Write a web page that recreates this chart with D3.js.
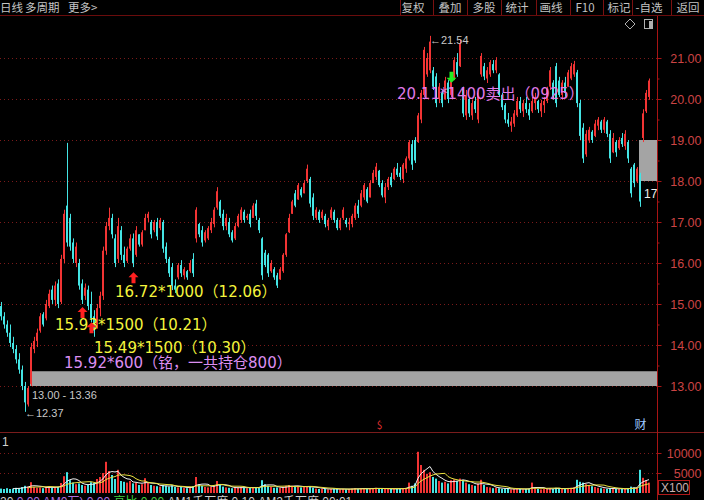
<!DOCTYPE html>
<html><head><meta charset="utf-8">
<script src="https://cdn.jsdelivr.net/npm/d3@7"></script>
<style>html,body{margin:0;padding:0;background:#000;overflow:hidden}svg{display:block}</style>
</head><body><svg id="c" width="704" height="500"></svg>
<script>
// ---------- data ----------
const openP=[14.95,14.7,14.5,14.3,14.05,13.9,13.65,13.4,13.0,
12.55,13.05,13.9,14.1,14.35,14.75,14.65,14.95,15.35,15.1,15.5,15.05,16.1,17.4,
17.1,16.5,16.0,16.0,15.5,15.2,15.35,15.0,14.7,14.5,14.9,15.2,16.3,16.9,17.1,16.6,16.1,16.8,
16.2,16.05,16.35,16.6,16.2,16.7,16.45,16.8,17.1,17.0,16.8,17.0,16.85,17.0,16.4,16.1,15.9,15.45,15.65,15.95,15.7,15.8,15.8,16.1,16.6,
16.95,16.8,16.55,16.6,16.8,16.95,17.35,17.5,17.2,16.9,17.0,16.75,16.6,16.9,17.05,17.25,17.1,17.2,17.1,17.45,17.05,16.6,16.25,16.2,15.8,15.85,15.7,15.6,15.8,16.2,16.75,17.2,17.7,17.55,17.8,
17.7,18.0,18.05,17.6,17.1,17.25,17.1,17.15,16.9,17.1,17.25,17.05,16.85,17.1,17.05,16.95,16.95,17.1,17.4,17.4,
17.6,17.8,17.6,17.95,18.1,18.25,17.95,17.6,17.85,18.1,18.05,18.3,18.2,18.05,18.3,18.55,18.9,
19.0,18.95,19.5,20.1,20.6,20.7,20.7,20.55,20.0,20.15,20.0,20.4,20.1,20.5,20.9,20.8,20.25,19.6,20.0,19.6,19.95,19.5,20.6,
20.8,20.5,20.6,20.85,20.7,20.6,20.1,19.85,19.5,19.35,19.4,19.6,19.95,19.7,19.9,19.75,19.7,19.9,19.95,19.7,
19.85,19.95,20.3,20.4,20.8,20.45,20.1,20.4,20.3,20.5,20.6,20.65,19.9,19.3,18.65,19.0,19.2,19.1,19.35,19.45,
19.25,19.45,19.15,18.7,18.95,18.8,19.05,18.85,18.95,18.3,18.4,18.0,18.15,19.05,19.7,20.05];
const highP=[15.05,14.8,14.6,14.5,14.2,14.0,13.8,13.5,13.1,
13.0,14.05,14.2,14.4,14.78,14.8,15.1,15.35,15.45,15.55,15.6,16.2,17.3,18.93,
17.2,16.6,16.5,16.1,15.6,15.5,15.45,15.3,14.85,15.0,15.3,16.4,17.0,17.35,17.2,16.7,17.1,16.9,
16.4,16.4,16.7,16.72,16.9,16.7,16.8,17.2,17.25,17.05,17.05,17.1,17.1,17.05,16.5,16.15,16.0,15.6,16.0,16.07,15.9,15.83,16.07,16.24,17.36,
16.98,16.9,16.8,16.9,17.1,17.36,17.85,17.54,17.3,17.2,17.1,16.8,16.98,17.2,17.36,17.3,17.2,17.3,17.46,17.54,17.1,16.63,16.32,16.24,16.07,15.9,15.76,15.9,16.24,16.73,17.2,17.54,17.78,17.95,17.85,
18.02,18.4,18.1,17.7,17.36,17.3,17.3,17.2,17.1,17.36,17.3,17.1,17.1,17.36,17.1,17.1,17.2,17.46,17.54,17.78,
17.95,17.85,18.02,18.27,18.44,18.27,18.02,17.95,18.1,18.2,18.34,18.44,18.34,18.44,18.6,19.0,19.0,
19.07,19.66,20.22,21.27,21.12,21.54,20.78,20.63,20.39,20.22,20.54,20.46,20.54,21.02,21.12,21.44,20.3,20.22,20.05,19.98,20.05,20.22,21.12,
20.88,20.78,20.95,20.95,21.02,20.63,20.15,19.9,19.66,19.56,19.73,20.05,20.05,19.98,20.05,19.9,20.05,20.15,19.98,19.98,
20.05,20.3,20.78,20.46,20.88,20.54,20.46,20.54,20.71,20.88,20.93,20.71,19.98,19.41,19.24,19.32,19.24,19.49,19.56,19.49,
19.56,19.49,19.24,19.17,19.0,19.07,19.17,19.24,19.0,18.34,18.44,18.34,18.2,19.75,20.22,20.5];
const lowP=[14.6,14.4,14.2,13.95,13.8,13.55,13.3,12.9,12.37,
12.5,13.0,13.8,13.95,14.3,14.45,14.6,14.9,15.0,14.95,14.9,15.0,16.0,16.4,
16.3,16.0,15.9,15.35,15.0,15.1,14.85,14.55,14.2,14.4,14.7,15.1,16.2,16.8,16.6,15.9,16.0,16.07,
15.9,16.0,16.3,15.9,16.15,16.4,16.4,16.8,17.0,16.6,16.75,16.56,16.8,16.25,16.0,15.66,15.34,15.27,15.6,15.66,15.6,15.59,15.76,15.66,16.5,
16.63,16.4,16.5,16.56,16.73,16.87,17.3,17.1,16.8,16.8,16.63,16.5,16.56,16.87,16.98,16.98,17.05,16.87,17.1,17.05,16.73,15.59,15.9,15.66,15.76,15.59,15.39,15.59,15.76,16.15,16.73,17.2,17.36,17.54,17.6,
17.7,17.95,17.36,17.05,17.05,16.98,17.05,16.87,16.8,17.05,16.98,16.8,16.8,17.05,16.87,16.8,16.87,17.05,17.1,17.36,
17.54,17.46,17.6,17.95,18.02,17.85,17.6,17.46,17.78,17.85,18.02,18.1,18.02,17.95,18.2,18.5,18.27,
18.44,18.93,19.41,20.05,20.54,20.63,20.22,19.8,19.9,19.8,19.98,19.9,20.05,20.46,20.54,20.78,19.56,19.49,19.56,19.49,19.66,19.41,20.54,
20.46,20.39,20.54,20.63,20.63,20.05,19.73,19.41,19.32,19.2,19.32,19.56,19.66,19.56,19.66,19.49,19.66,19.73,19.66,19.56,
19.66,19.9,20.22,19.98,19.8,20.05,19.98,20.05,20.3,20.46,20.54,19.8,19.0,18.44,18.59,18.93,18.93,19.07,19.24,19.17,
19.17,19.07,18.44,18.68,18.59,18.76,18.83,18.76,18.44,17.6,17.85,17.95,17.37,18.95,19.66,19.98];
const closeP=[14.7,14.5,14.3,14.05,13.9,13.65,13.4,13.0,12.6,
12.95,13.95,14.1,14.3,14.7,14.5,15.0,15.25,15.1,15.45,15.0,16.1,17.2,16.5,
16.4,16.1,16.4,15.45,15.1,15.4,14.95,14.65,14.35,14.9,15.2,16.3,16.9,17.1,16.7,16.0,16.9,16.2,
16.0,16.35,16.6,16.0,16.8,16.45,16.75,17.1,17.2,16.7,17.0,16.65,17.05,16.35,16.1,15.75,15.45,15.35,15.95,15.75,15.85,15.65,16.0,15.75,17.3,
16.7,16.5,16.75,16.85,17.0,17.3,17.75,17.15,16.9,17.1,16.7,16.55,16.9,17.15,17.3,17.05,17.15,16.95,17.4,17.15,16.8,15.7,15.95,15.75,16.0,15.65,15.45,15.85,16.2,16.7,17.1,17.5,17.4,17.9,17.65,
17.95,18.3,17.45,17.15,17.3,17.05,17.25,16.95,17.05,17.3,17.05,16.85,17.05,17.3,16.95,17.0,17.15,17.4,17.2,17.7,
17.9,17.5,17.95,18.2,18.35,17.9,17.65,17.85,18.05,17.9,18.3,18.15,18.1,18.4,18.55,18.95,18.4,
18.5,19.6,20.15,21.2,21.0,21.4,20.3,19.9,20.3,19.9,20.45,20.0,20.45,20.95,20.6,21.35,19.65,20.1,19.65,19.9,19.75,20.15,21.05,
20.55,20.7,20.9,20.7,20.95,20.1,19.8,19.5,19.4,19.45,19.65,19.95,19.75,19.9,19.75,19.6,19.95,20.05,19.75,19.9,
19.95,20.25,20.7,20.05,19.9,20.1,20.4,20.15,20.65,20.8,20.85,19.9,19.1,18.55,19.15,19.25,19.0,19.4,19.5,19.25,
19.5,19.15,18.55,19.05,18.7,19.0,18.9,19.15,18.55,17.7,17.95,18.3,17.5,19.65,20.15,20.45];
const volume=[1100,1000,1200,1000,1100,1300,1200,1500,1800,
1600,2700,1500,1300,1400,1200,1500,1600,1300,1400,1500,2500,4200,5200,
3200,2600,2200,2400,2000,1800,2000,2700,2500,3500,4000,5000,7800,5500,4500,3500,5800,3000,
2800,2600,3000,2400,2600,2000,2200,3700,2500,2000,1800,1700,1600,2000,1800,1600,1900,1500,1400,1500,1300,1200,1400,1700,4000,
2200,1800,1500,1400,1600,2000,3000,2200,1600,1400,1300,1200,1300,1400,1500,1300,1200,1300,1400,1500,1400,3200,2200,1800,1500,1300,1400,1300,1500,1800,2000,1800,1700,1600,1400,
1500,1700,1600,1300,1100,1000,1100,1000,900,1000,1100,1000,900,1000,900,1000,1100,1200,1000,1100,
1200,1000,1100,1200,1300,1100,1000,1000,1100,1000,1100,1000,1100,1200,1300,2600,1800,
2400,10300,7000,5800,4800,5200,4000,3600,3000,2600,2800,2400,3200,3400,3000,3600,3200,2600,2200,2000,1800,2400,3300,
2000,1500,1400,1200,1300,1200,1000,1100,1000,900,1000,1100,1000,900,1000,1100,2600,1200,1000,900,
1000,1100,1200,1000,1300,1100,1000,1100,1200,1300,1400,3300,2800,2600,2200,2000,1700,1500,1300,1200,
1100,1000,1200,1100,1000,1000,1100,1000,1200,1600,1400,1300,5800,3800,3200,2600];

const priceTicks=[13,14,15,16,17,18,19,20,21];
const halfTicks=[13.5,14.5,15.5,16.5,17.5,18.5,19.5,20.5];
const volTicks=[5000,10000];
const menuLeft=["日线","多周期","更多>"];
const menuRight=["复权","叠加","多股","统计","画线","F10","标记","-自选","返回"];

// trade markers (bar index, price, side)
const tradeIdx=[44,27,30,150];
const tradePrice=[15.63,14.78,14.41,20.54];
const tradeSide=["buy","buy","buy","sell"];
// notes (text, anchor bar, anchor price, kind)
const noteText=["16.72*1000（12.06）","15.93*1500（10.21）","15.49*1500（10.30）","15.92*600（铭，一共持仓800）","20.11*1400卖出（0925）"];
const noteIdx=[38,18,31,21,132];
const notePrice=[15.17,14.366,13.805,13.439,20.0];
const noteKind=["buy","buy","buy","pos","sell"];
// grey zones
const zoneLow=[13.0,18.0], zoneHigh=[13.36,19.0], zoneStart=[10,213];
const eventIdx=[126,213], eventLabel=["$","财"];

// ---------- chart ----------
const svg=d3.select("#c");
const W=704, AX=657, n=closeP.length;
const FONT="'Liberation Sans', Arial, 'Noto Sans CJK SC', sans-serif";
const NOTEFONT="'DejaVu Sans', 'Noto Sans CJK SC', sans-serif";
const CJK="'Noto Sans CJK SC', sans-serif";
const UP="#f23434", DN="#44e4e4", AXC="#a81414", GRID="#7a1a1a", LBL="#cc4444";

const x=d3.scaleBand().domain(d3.range(n)).range([0,651]);
const y=d3.scaleLinear().domain([13,21]).range([386,58]);
const yv=d3.scaleLinear().domain([0,10000]).range([493,453]);

svg.append("rect").attr("width",W).attr("height",500).attr("fill","#000");
const defs=svg.append("defs");
defs.append("clipPath").attr("id","cm").append("rect").attr("x",0).attr("y",16).attr("width",AX).attr("height",416);
defs.append("clipPath").attr("id","cv").append("rect").attr("x",0).attr("y",433).attr("width",AX).attr("height",67);

// toolbar
svg.append("line").attr("x1",0).attr("x2",W).attr("y1",15.5).attr("y2",15.5).attr("stroke","#6a0c0c");
const lx=[0,25,68];
svg.selectAll("text.ml").data(menuLeft).join("text").attr("class","ml")
  .attr("x",(d,i)=>lx[i]).attr("y",12).attr("fill","#c4c4c4")
  .style("font-family",CJK).style("font-size","11.5px").text(d=>d);
const rc=[413,450,484,517,551,585,619,649,688];
const sep=[400,433,467,501,536,570,603,632,671];
svg.selectAll("line.sep").data(sep).join("line").attr("class","sep")
  .attr("x1",d=>d+0.5).attr("x2",d=>d+0.5).attr("y1",0).attr("y2",15).attr("stroke","#7a1010");
svg.selectAll("text.mr").data(menuRight).join("text").attr("class","mr")
  .attr("x",(d,i)=>rc[i]).attr("y",12).attr("text-anchor","middle").attr("fill","#c4c4c4")
  .style("font-family",CJK).style("font-size","11.5px").text(d=>d);
// small icons
svg.append("path").attr("d","M630,19 L635,24 L630,29 L625,24 Z").attr("fill","none").attr("stroke","#b0b0b0");
svg.append("rect").attr("x",644.5).attr("y",19.5).attr("width",8).attr("height",9).attr("fill","none").attr("stroke","#b0b0b0");
svg.append("rect").attr("x",649).attr("y",21).attr("width",3).attr("height",7).attr("fill","#b0b0b0");

// grid
svg.selectAll("line.g").data(priceTicks).join("line").attr("class","g")
  .attr("x1",0).attr("x2",AX).attr("y1",d=>Math.round(y(d))+0.5).attr("y2",d=>Math.round(y(d))+0.5)
  .attr("stroke",GRID).attr("stroke-dasharray","1,3");
svg.selectAll("line.gv").data(volTicks).join("line").attr("class","gv")
  .attr("x1",0).attr("x2",AX).attr("y1",d=>Math.round(yv(d))+0.5).attr("y2",d=>Math.round(yv(d))+0.5)
  .attr("stroke",GRID).attr("stroke-dasharray","1,3");

// grey zones (behind candles)
const main=svg.append("g").attr("clip-path","url(#cm)");
main.selectAll("rect.z").data(zoneLow).join("rect").attr("class","z")
  .attr("x",(d,i)=>x(zoneStart[i])).attr("width",(d,i)=>AX-x(zoneStart[i]))
  .attr("y",(d,i)=>y(zoneHigh[i])).attr("height",(d,i)=>y(d)-y(zoneHigh[i]))
  .attr("fill","#a4a4a4");

// candles
const idx=d3.range(n);
const col=i=>closeP[i]>=openP[i]?UP:DN;
main.selectAll("rect.w").data(idx).join("rect").attr("class","w")
  .attr("x",i=>x(i)+1).attr("width",1)
  .attr("y",i=>y(highP[i])).attr("height",i=>Math.max(1,y(lowP[i])-y(highP[i])))
  .attr("fill",col);
main.selectAll("rect.b").data(idx).join("rect").attr("class","b")
  .attr("x",i=>x(i)).attr("width",2)
  .attr("y",i=>y(Math.max(openP[i],closeP[i])))
  .attr("height",i=>Math.max(1,Math.abs(y(openP[i])-y(closeP[i]))))
  .attr("fill",col);

// notes
const noteCol={buy:"#f4f43c",pos:"#dc8ef0",sell:"#e07ae8"};
main.selectAll("text.n").data(noteText).join("text").attr("class","n")
  .attr("x",(d,i)=>x(noteIdx[i])+1).attr("y",(d,i)=>y(notePrice[i]))
  .attr("fill",(d,i)=>noteCol[noteKind[i]])
  .style("font-family",NOTEFONT).style("font-size","15px").text(d=>d);

// trade markers
const upArrow="M0,-6 L5,-1 L2,-1 L2,5 L-2,5 L-2,-1 L-5,-1 Z";
const dnArrow="M0,6 L5,1 L2,1 L2,-5 L-2,-5 L-2,1 L-5,1 Z";
main.selectAll("path.t").data(tradeIdx).join("path").attr("class","t")
  .attr("transform",(d,i)=>`translate(${x(d)+1.5},${y(tradePrice[i])})`)
  .attr("d",(d,i)=>tradeSide[i]==="buy"?upArrow:dnArrow)
  .attr("fill",(d,i)=>tradeSide[i]==="buy"?"#ff2020":"#22ee22");

// extreme / zone labels
const smallStyle=s=>s.style("font-family",FONT).style("font-size","11px").attr("fill","#c8c8c8");
const hiI=d3.maxIndex(highP), loI=d3.minIndex(lowP);
main.append("text").attr("x",x(hiI)+1).attr("y",y(highP[hiI])+8).text("←"+d3.format(".2f")(highP[hiI])).call(smallStyle);
main.append("text").attr("x",x(loI)+1).attr("y",y(lowP[loI])+5).text("←"+d3.format(".2f")(lowP[loI])).call(smallStyle);
main.append("text").attr("x",x(zoneStart[0])+2).attr("y",y(zoneLow[0])+13)
  .text(d3.format(".2f")(zoneLow[0])+" - "+d3.format(".2f")(zoneHigh[0])).call(smallStyle);
const lastLowI=213;
main.append("text").attr("x",x(lastLowI)+5).attr("y",y(lowP[lastLowI])-9)
  .attr("fill","#f0f0f0").style("font-family",FONT).style("font-size","12px").text(d3.format(".2f")(lowP[lastLowI]));
// event markers
main.selectAll("text.e").data(eventIdx).join("text").attr("class","e")
  .attr("x",d=>x(d)+1.5).attr("y",429).attr("text-anchor","middle")
  .attr("fill",(d,i)=>i===0?"#e03030":"#9cc8ff")
  .style("font-family",CJK).style("font-size",(d,i)=>i===0?"10px":"12px").text((d,i)=>eventLabel[i]);

// separators
svg.append("line").attr("x1",0).attr("x2",W).attr("y1",432.5).attr("y2",432.5).attr("stroke","#7a1c1c");
svg.append("line").attr("x1",AX+0.5).attr("x2",AX+0.5).attr("y1",16).attr("y2",500).attr("stroke",AXC);

// price axis
const pa=svg.append("g").attr("transform",`translate(${AX+0.5},0)`)
  .call(d3.axisRight(y).tickValues(priceTicks).tickSize(4).tickFormat(d3.format(".2f")));
pa.select(".domain").remove();
pa.selectAll("line").attr("stroke",AXC);
pa.selectAll("text").attr("x",44).attr("text-anchor","end").attr("fill",LBL)
  .style("font-family",FONT).style("font-size","12.5px");
const ha=svg.append("g").attr("transform",`translate(${AX+0.5},0)`)
  .call(d3.axisRight(y).tickValues(halfTicks).tickSize(2).tickFormat(""));
ha.select(".domain").remove(); ha.selectAll("line").attr("stroke",AXC);

// volume panel
svg.append("text").attr("x",2).attr("y",446).attr("fill","#d0d0d0").style("font-family",FONT).style("font-size","12px").text("1");
const vg=svg.append("g").attr("clip-path","url(#cv)");
vg.selectAll("rect.v").data(idx).join("rect").attr("class","v")
  .attr("x",i=>x(i)).attr("width",2)
  .attr("y",i=>yv(volume[i])).attr("height",i=>yv(0)-yv(volume[i]))
  .attr("fill",col);
function ma(k){return idx.filter(i=>i>=k-1).map(i=>[i,d3.mean(volume.slice(i-k+1,i+1))]);}
const vline=d3.line().x(d=>x(d[0])+1).y(d=>yv(d[1]));
vg.append("path").attr("d",vline(ma(5))).attr("fill","none").attr("stroke","#f0f0f0").attr("stroke-width",1);
vg.append("path").attr("d",vline(ma(10))).attr("fill","none").attr("stroke","#e8e040").attr("stroke-width",1);

const va=svg.append("g").attr("transform",`translate(${AX+0.5},0)`)
  .call(d3.axisRight(yv).tickValues(volTicks).tickSize(4).tickFormat(d3.format("d")));
va.select(".domain").remove();
va.selectAll("line").attr("stroke",AXC);
va.selectAll("text").attr("x",44).attr("text-anchor","end").attr("fill",LBL)
  .style("font-family",FONT).style("font-size","12.5px");
svg.append("rect").attr("x",658.5).attr("y",480.5).attr("width",31).attr("height",14).attr("fill","none").attr("stroke","#b01a1a");
svg.append("text").attr("x",661).attr("y",492).attr("fill","#c8b0b0").style("font-family",FONT).style("font-size","12px").text("X100");

// bottom status text (cut by window edge)
const st=svg.append("text").attr("x",0).attr("y",506).style("font-family",FONT).style("font-size","12px");
[["20 ","#d0d0d0"],["0.00 AM0万) ","#b070e0"],["0.00 ","#b070e0"],["高比 ","#40d040"],["0.00 ","#40d040"],["AM1千万度 ","#d0d0d0"],["0.10 ","#d0d0d0"],["AM2千万度 ","#d0d0d0"],["00:01","#d0d0d0"]]
  .forEach(([t,c])=>st.append("tspan").attr("fill",c).text(t));
</script>
</body></html>
